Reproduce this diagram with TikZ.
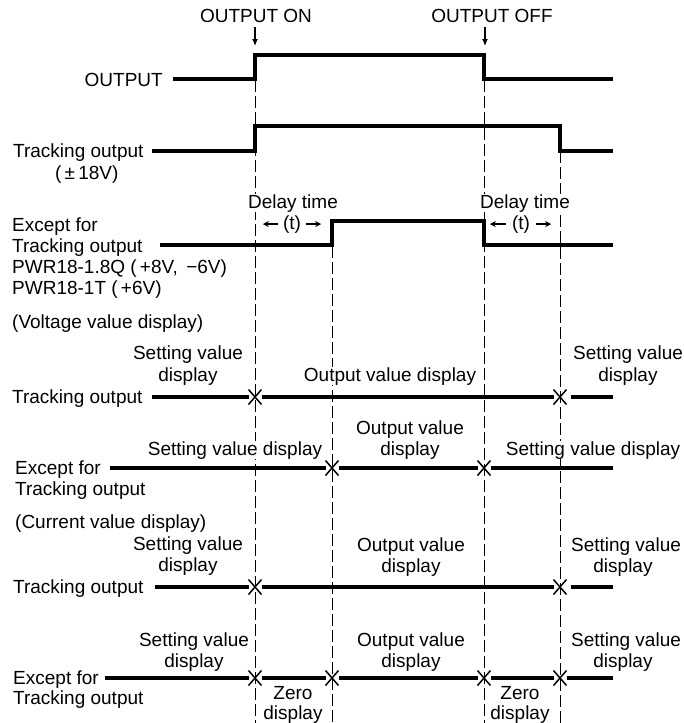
\documentclass[tikz,border=0pt]{standalone}
\usepackage{fontspec}
\setmainfont{Liberation Sans}
\usetikzlibrary{arrows.meta,shapes.misc}
\begin{document}
\begin{tikzpicture}[x=1pt,y=-1pt,
  every node/.style={font=\fontsize{19}{21}\selectfont, inner sep=0pt},
  lbl/.style={anchor=base west},
  lbe/.style={anchor=base east},
  ctr/.style={anchor=base},
  wb/.style={fill=white},
  sig/.style={line width=3.1pt},
  guide/.style={line width=1pt, dash pattern=on 12pt off 4pt},
  xm/.style={cross out, draw, line width=1.5pt, minimum width=7pt, minimum height=9pt, outer sep=3pt},
  tip/.style={-{Latex[length=7pt,width=6pt]}, line width=1.1pt},
  ttip/.style={-{Stealth[length=6pt,width=6pt]}, line width=1.3pt}
]
\useasboundingbox (0,0) rectangle (683,723);

% guide lines
\coordinate (gon) at (255,80);
\coordinate (gd1) at (332,246);
\coordinate (goff) at (484,80);
\coordinate (gd2) at (560,151);
\coordinate (bon) at (255,723);
\coordinate (bd1) at (332,723);
\coordinate (boff) at (484,723);
\coordinate (bd2) at (560,723);
\draw[guide] (gon) -- (bon);
\draw[guide] (gd1) -- (bd1);
\draw[guide] (goff) -- (boff);
\draw[guide] (gd2) -- (bd2);

% top events
\node[ctr] (tOn) at (256,22) {OUTPUT ON};
\node[ctr] (tOff) at (492,22) {OUTPUT OFF};
\coordinate (aOn) at (255,46);
\coordinate (aOff) at (485,46);
\draw[tip] (255,27) -- (aOn);
\draw[tip] (485,27) -- (aOff);

% OUTPUT
\node[lbe] (lOut) at (163,86) {OUTPUT};
\draw[sig] (173,79) -- (255,79) -- (255,55) -- (484,55) -- (484,79) -- (613,79);

% Tracking output
\node[lbl] (lTr1) at (13,157) {Tracking output};
\node[lbl] (lTr1b) at (55,179) {(\,±\,18V)};
\draw[sig] (152,151) -- (255,151) -- (255,126) -- (560,126) -- (560,151) -- (613,151);

% Delay labels
\node[ctr,wb] (dly1) at (293,208) {Delay time};
\node[ctr] (t1) at (292,229) {(t)};
\draw[ttip] ([xshift=-5pt]t1.west) -- ++(-15,0);
\draw[ttip] ([xshift=5pt]t1.east) -- ++(15,0);
\node[ctr,wb] (dly2) at (525,208) {Delay time};
\node[ctr] (t2) at (521,229) {(t)};
\draw[ttip] ([xshift=-6pt]t2.west) -- ++(-16,0);
\draw[ttip] ([xshift=6pt]t2.east) -- ++(15,0);

% Except for
\node[lbl] (lEx1a) at (12,231) {Except for};
\node[lbl] (lEx1b) at (12,252) {Tracking output};
\node[lbl] (lEx1c) at (12,273) {PWR18-1.8Q (\,+8V, \,−6V)};
\node[lbl] (lEx1d) at (12,294) {PWR18-1T (\,+6V)};
\draw[sig] (160,245) -- (332,245) -- (332,221) -- (484,221) -- (484,245) -- (613,245);

\node[lbl] (lVolt) at (12,328) {(Voltage value display)};

% Voltage: tracking output
\node[lbl] (lTr2) at (12,403) {Tracking output};
\node[ctr] (sv1a) at (188,359) {Setting value};
\node[ctr] (sv1b) at (188,381) {display};
\node[ctr,wb] (ov1) at (390,381) {Output value display};
\node[ctr] (sv2a) at (628,359) {Setting value};
\node[ctr] (sv2b) at (628,381) {display};
\node[xm] (vx1) at (255,397) {};
\node[xm] (vx2) at (560,397) {};
\draw[sig] (152,397) -- (vx1);
\draw[sig] (vx1) -- (vx2);
\draw[sig,shorten <=4pt] (vx2) -- (613,397);

% Voltage: except for
\node[lbl] (lEx2a) at (15,474) {Except for};
\node[lbl] (lEx2b) at (15,495) {Tracking output};
\node[ctr,wb] (sv3) at (235,455) {Setting value display};
\node[ctr] (ov2a) at (410,434) {Output value};
\node[ctr] (ov2b) at (410,455) {display};
\node[ctr,wb] (sv4) at (593,455) {Setting value display};
\node[xm] (vx3) at (332,468) {};
\node[xm] (vx4) at (484,468) {};
\draw[sig] (110,468) -- (vx3);
\draw[sig] (vx3) -- (vx4);
\draw[sig] (vx4) -- (613,468);

\node[lbl] (lCur) at (15,528) {(Current value display)};

% Current: tracking output
\node[lbl] (lTr3) at (13,593) {Tracking output};
\node[ctr] (sv5a) at (188,550) {Setting value};
\node[ctr] (sv5b) at (188,571) {display};
\node[ctr] (ov3a) at (411,551) {Output value};
\node[ctr] (ov3b) at (411,572) {display};
\node[ctr] (sv6a) at (626,551) {Setting value};
\node[ctr] (sv6b) at (623,572) {display};
\node[xm] (cx1) at (255,587) {};
\node[xm] (cx2) at (560,587) {};
\draw[sig] (155,587) -- (cx1);
\draw[sig] (cx1) -- (cx2);
\draw[sig,shorten <=4pt] (cx2) -- (613,587);

% Current: except for
\node[lbl] (lEx3a) at (13,684) {Except for};
\node[lbl] (lEx3b) at (13,704) {Tracking output};
\node[ctr] (sv7a) at (194,646) {Setting value};
\node[ctr] (sv7b) at (194,667) {display};
\node[ctr] (ov4a) at (411,646) {Output value};
\node[ctr] (ov4b) at (411,667) {display};
\node[ctr] (sv8a) at (626,646) {Setting value};
\node[ctr] (sv8b) at (623,667) {display};
\node[ctr] (z1a) at (293,699) {Zero};
\node[ctr] (z1b) at (293,719) {display};
\node[ctr] (z2a) at (520,699) {Zero};
\node[ctr] (z2b) at (520,719) {display};
\node[xm] (dx1) at (255,678) {};
\node[xm] (dx2) at (332,678) {};
\node[xm] (dx3) at (484,678) {};
\node[xm] (dx4) at (560,678) {};
\draw[sig] (105,678) -- (dx1);
\draw[sig] (dx1) -- (dx2);
\draw[sig] (dx2) -- (dx3);
\draw[sig] (dx3) -- (dx4);
\draw[sig] (dx4) -- (613,678);
\end{tikzpicture}
\end{document}
